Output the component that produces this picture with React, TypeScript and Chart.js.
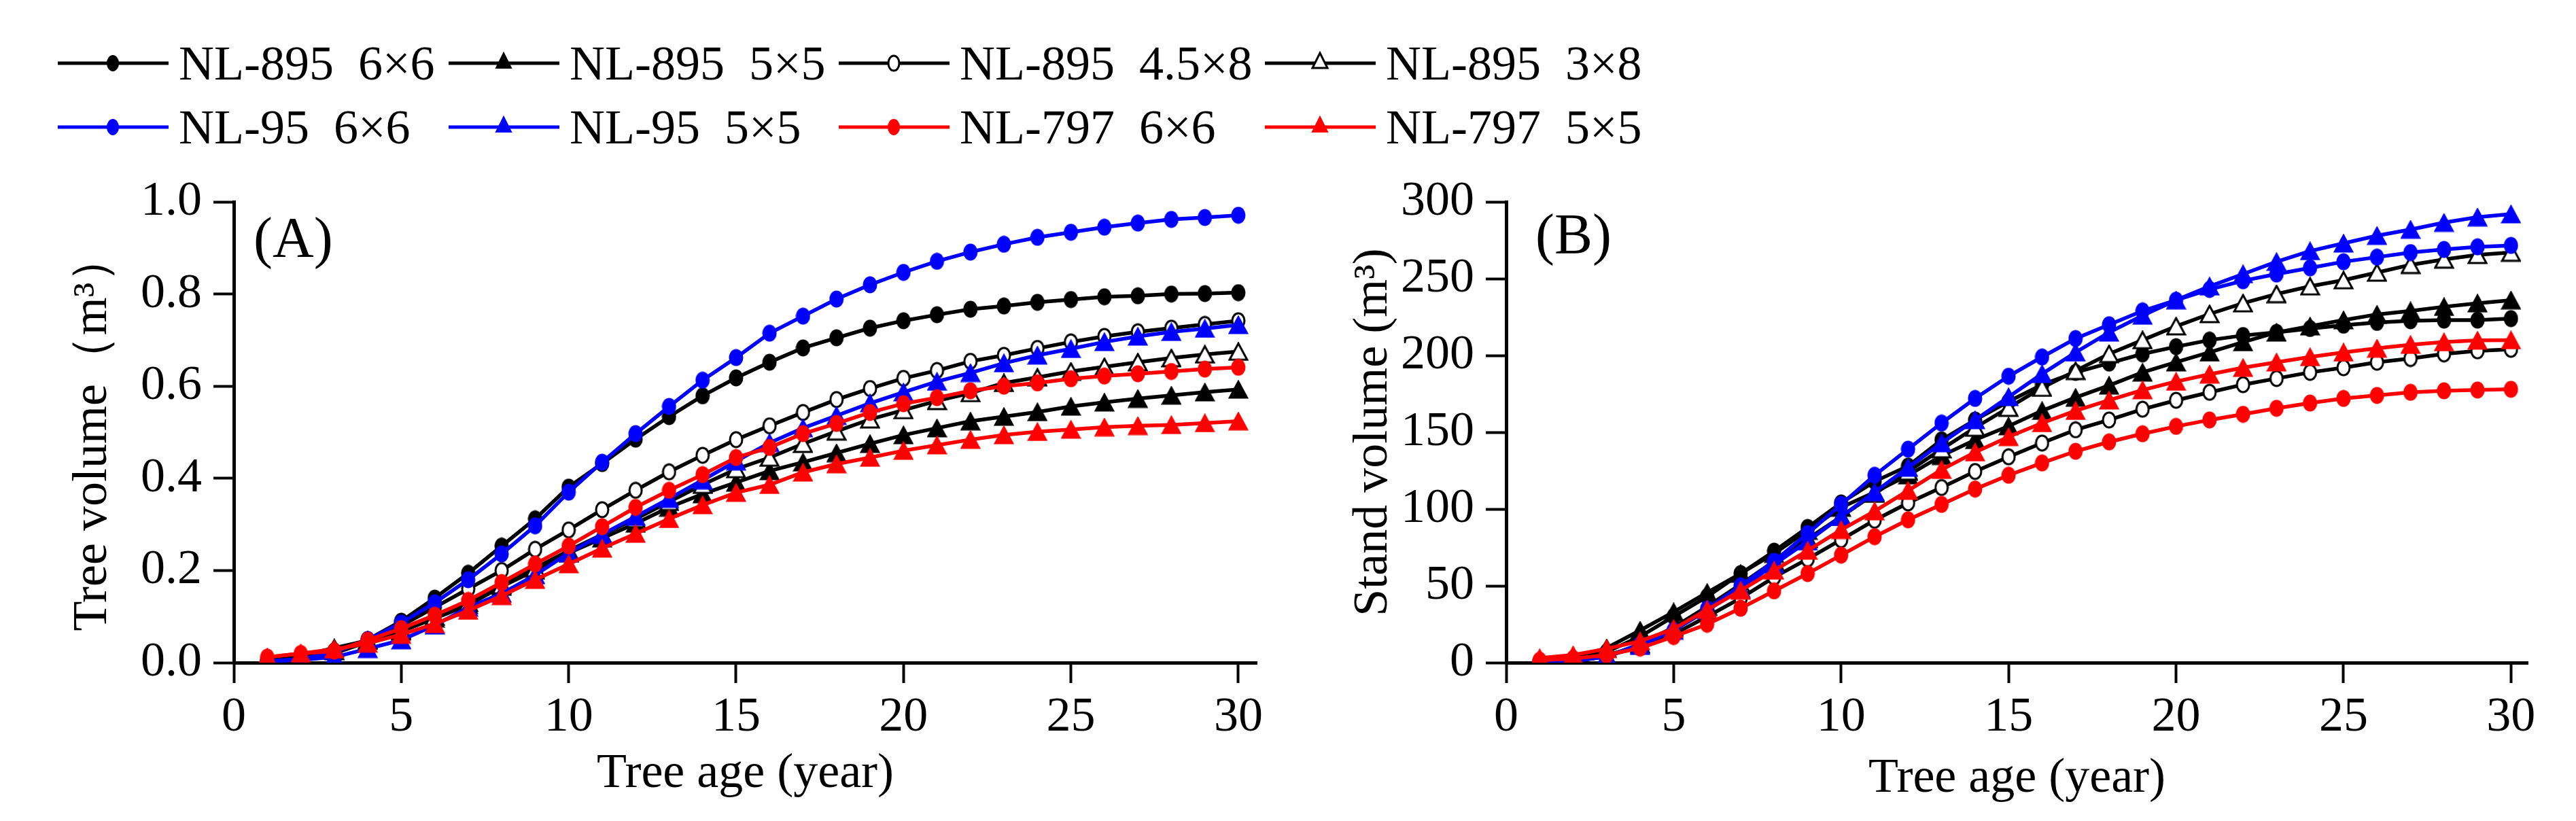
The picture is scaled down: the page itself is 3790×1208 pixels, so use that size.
import React, { useEffect, useRef } from 'react';
import { Chart, registerables } from 'chart.js';

Chart.register(...registerables);

const SERIF = '"Liberation Serif", "Times New Roman", serif';

// ---------- data ----------
const ages = [1, 2, 3, 4, 5, 6, 7, 8, 9, 10, 11, 12, 13, 14, 15, 16, 17, 18, 19, 20, 21, 22, 23, 24, 25, 26, 27, 28, 29, 30];
const ageTicks = [0, 5, 10, 15, 20, 25, 30];
const treeTicks = [0, 0.2, 0.4, 0.6, 0.8, 1.0];
const standTicks = [0, 50, 100, 150, 200, 250, 300];

const seriesLabels = ['NL-895  6×6', 'NL-895  5×5', 'NL-895  4.5×8', 'NL-895  3×8', 'NL-95  6×6', 'NL-95  5×5', 'NL-797  6×6', 'NL-797  5×5'];
const seriesColors = ['#000000', '#000000', '#000000', '#000000', '#0000ff', '#0000ff', '#ff0000', '#ff0000'];
const seriesMarkers = ['circle', 'triangle', 'circle', 'triangle', 'circle', 'triangle', 'circle', 'triangle'];
const seriesFilled = [true, true, false, false, true, true, true, true];

// (A) Tree volume (m3)
const treeNL895_6x6 = [0.005, 0.01, 0.025, 0.05, 0.09, 0.14, 0.194, 0.253, 0.312, 0.381, 0.432, 0.485, 0.534, 0.579, 0.618, 0.652, 0.683, 0.705, 0.726, 0.742, 0.755, 0.767, 0.774, 0.782, 0.788, 0.794, 0.796, 0.8, 0.801, 0.803];
const treeNL895_5x5 = [0.006, 0.015, 0.032, 0.048, 0.068, 0.096, 0.125, 0.165, 0.2, 0.238, 0.27, 0.302, 0.337, 0.366, 0.391, 0.416, 0.435, 0.455, 0.475, 0.494, 0.509, 0.524, 0.534, 0.544, 0.556, 0.565, 0.573, 0.58, 0.587, 0.593];
const treeNL895_45x8 = [0.003, 0.008, 0.02, 0.045, 0.08, 0.12, 0.16, 0.2, 0.246, 0.288, 0.332, 0.374, 0.414, 0.45, 0.484, 0.514, 0.543, 0.571, 0.595, 0.617, 0.634, 0.654, 0.667, 0.682, 0.696, 0.708, 0.718, 0.726, 0.734, 0.742];
const treeNL895_3x8 = [0.004, 0.01, 0.025, 0.048, 0.07, 0.1, 0.13, 0.168, 0.205, 0.243, 0.278, 0.312, 0.349, 0.386, 0.42, 0.445, 0.475, 0.502, 0.528, 0.548, 0.568, 0.585, 0.607, 0.619, 0.632, 0.642, 0.652, 0.661, 0.669, 0.675];
const treeNL95_6x6 = [0.003, 0.008, 0.022, 0.05, 0.086, 0.13, 0.18, 0.236, 0.297, 0.37, 0.435, 0.497, 0.556, 0.613, 0.662, 0.715, 0.752, 0.789, 0.82, 0.847, 0.871, 0.891, 0.908, 0.923, 0.934, 0.945, 0.954, 0.962, 0.966, 0.971];
const treeNL95_5x5 = [0.003, 0.006, 0.012, 0.03, 0.049, 0.081, 0.12, 0.15, 0.19, 0.238, 0.278, 0.317, 0.356, 0.396, 0.437, 0.477, 0.509, 0.536, 0.563, 0.587, 0.61, 0.629, 0.65, 0.667, 0.681, 0.696, 0.708, 0.718, 0.725, 0.733];
const treeNL797_6x6 = [0.012, 0.02, 0.025, 0.049, 0.074, 0.103, 0.135, 0.174, 0.214, 0.253, 0.295, 0.337, 0.374, 0.408, 0.445, 0.467, 0.497, 0.519, 0.543, 0.562, 0.575, 0.59, 0.6, 0.607, 0.616, 0.622, 0.627, 0.632, 0.637, 0.641];
const treeNL797_5x5 = [0.012, 0.02, 0.029, 0.042, 0.061, 0.084, 0.113, 0.145, 0.18, 0.214, 0.248, 0.28, 0.312, 0.342, 0.369, 0.386, 0.413, 0.431, 0.445, 0.46, 0.472, 0.484, 0.494, 0.501, 0.506, 0.511, 0.514, 0.516, 0.52, 0.524];

// (B) Stand volume (m3)
const standNL895_6x6 = [0.8, 2, 7, 17, 30, 43, 58, 72.6, 88, 104, 118, 128, 145, 158, 170, 181, 189, 195, 201, 205.7, 210, 213, 215, 217.5, 219.7, 221.5, 222.6, 223, 223, 224];
const standNL895_5x5 = [1, 3, 9.5, 21, 33, 45.6, 58, 71, 86, 101, 111, 122, 134.7, 145, 154, 164, 172.6, 180.5, 189, 195.6, 202, 208.7, 215, 219, 223, 226.7, 229, 231.7, 234, 236];
const standNL895_45x8 = [0.5, 1.6, 5, 10.6, 18.5, 30, 42, 55.6, 67.5, 80, 92.7, 104, 114, 124.5, 134, 143, 151.6, 158, 165, 170.8, 176, 181, 185, 189, 192, 195.6, 198, 201, 203, 204];
const standNL895_3x8 = [0.3, 1, 4, 12, 23, 36.5, 51, 66, 80.5, 95, 110, 124.5, 139, 153, 166, 179, 190, 201, 210, 219, 227, 234, 240, 245, 249, 254, 259, 262.5, 265.5, 267];
const standNL95_6x6 = [0.3, 1, 4, 12, 21, 35, 50, 66, 84, 103, 122, 139, 156, 172, 186.5, 199, 211, 220, 229, 236, 243, 248.6, 253, 257, 261, 264, 267, 269, 270.7, 271.6];
const standNL95_5x5 = [0.5, 1, 4, 11, 21, 34, 48, 64, 79, 95, 111, 127, 143, 158, 173, 188, 202, 215, 226, 236, 245, 253, 261, 268, 273, 278, 282, 286.5, 290, 292];
const standNL797_6x6 = [1.6, 2.7, 5, 9.5, 17, 25, 35.4, 46.7, 58, 70, 82, 93, 103, 113, 122, 130, 137.6, 143.7, 149, 153.8, 158, 161.7, 165.6, 169, 172, 174, 176, 177, 177.5, 178];
const standNL797_5x5 = [3, 5, 9, 14, 22, 34.5, 47, 60, 73, 86.5, 98.6, 112, 125.6, 137, 147, 156, 164, 170.8, 177.5, 183, 187.7, 192, 195.6, 199, 202, 204.6, 207, 208.7, 209.8, 210];

const treeVolume = [treeNL895_6x6, treeNL895_5x5, treeNL895_45x8, treeNL895_3x8, treeNL95_6x6, treeNL95_5x5, treeNL797_6x6, treeNL797_5x5];
const standVolume = [standNL895_6x6, standNL895_5x5, standNL895_45x8, standNL895_3x8, standNL95_6x6, standNL95_5x5, standNL797_6x6, standNL797_5x5];

// ---------- marker images ----------
function makeMarker(kind: string, color: string, filled: boolean): HTMLCanvasElement {
  const c = document.createElement('canvas');
  const ctx = c.getContext('2d') as CanvasRenderingContext2D;
  const lw = filled ? 2 : 3;
  if (kind === 'circle') {
    c.width = 22;
    c.height = 26;
    ctx.beginPath();
    ctx.ellipse(11, 13, 11 - lw / 2 - 0.5, 13 - lw / 2 - 0.5, 0, 0, Math.PI * 2);
  } else {
    c.width = 30;
    c.height = 28;
    const m = lw / 2 + 0.5;
    ctx.beginPath();
    ctx.moveTo(15, m);
    ctx.lineTo(30 - m, 28 - m);
    ctx.lineTo(m, 28 - m);
    ctx.closePath();
  }
  ctx.fillStyle = filled ? color : '#ffffff';
  ctx.fill();
  ctx.lineWidth = lw;
  ctx.strokeStyle = color;
  ctx.lineJoin = 'miter';
  ctx.stroke();
  return c;
}

// ---------- chart helpers ----------
function buildDatasets(values: number[][]) {
  return values.map((arr, i) => {
    const color = seriesColors[i];
    const filled = seriesFilled[i];
    return {
      label: seriesLabels[i],
      data: arr.map((v, k) => ({ x: ages[k], y: v })),
      borderColor: color,
      backgroundColor: filled ? color : '#ffffff',
      borderWidth: 5.5,
      pointStyle: makeMarker(seriesMarkers[i], color, filled),
      pointRadius: 12,
      pointBorderWidth: 0,
      tension: 0,
      order: values.length - i,
    };
  });
}

const font72 = { family: SERIF, size: 72 };

function makeConfig(opts: {
  values: number[][];
  yTicks: number[];
  yMax: number;
  xMax: number;
  yTitle: string;
  yTitlePad: number;
  xTitlePad: number;
  yAxisWidth: number;
  padRight: number;
  panel: string;
  panelDx: number;
  panelDy: number;
  decimals: number;
}) {
  const panelLabel = {
    id: 'panelLabel',
    afterDraw(chart: any) {
      const { ctx, chartArea } = chart;
      ctx.save();
      ctx.font = `84px ${SERIF}`;
      ctx.fillStyle = '#000';
      ctx.textBaseline = 'alphabetic';
      ctx.textAlign = 'left';
      ctx.fillText(opts.panel, chartArea.left + opts.panelDx, chartArea.top + opts.panelDy);
      ctx.restore();
    },
  };
  return {
    type: 'line',
    data: { datasets: buildDatasets(opts.values) },
    plugins: [panelLabel],
    options: {
      animation: false,
      responsive: false,
      devicePixelRatio: 1,
      layout: { padding: { top: 297, right: opts.padRight, bottom: 0, left: 0 } },
      plugins: { legend: { display: false }, tooltip: { enabled: false } },
      scales: {
        x: {
          type: 'linear',
          min: 0,
          max: opts.xMax,
          afterBuildTicks: (scale: any) => {
            scale.ticks = ageTicks.map((v) => ({ value: v }));
          },
          afterFit: (scale: any) => {
            scale.height = 233;
          },
          ticks: { font: font72, color: '#000', padding: 8, maxRotation: 0, autoSkip: false },
          grid: { drawOnChartArea: false, drawTicks: true, tickLength: 30, tickWidth: 4, tickColor: '#000' },
          border: { display: true, color: '#000', width: 5 },
          title: { display: true, text: 'Tree age (year)', font: font72, color: '#000', padding: { top: 0, bottom: opts.xTitlePad } },
        },
        y: {
          type: 'linear',
          min: 0,
          max: opts.yMax,
          afterBuildTicks: (scale: any) => {
            scale.ticks = opts.yTicks.map((v) => ({ value: v }));
          },
          afterFit: (scale: any) => {
            scale.width = opts.yAxisWidth;
          },
          ticks: {
            font: font72,
            color: '#000',
            padding: 17,
            autoSkip: false,
            callback: (v: any) => Number(v).toFixed(opts.decimals),
          },
          grid: { drawOnChartArea: false, drawTicks: true, tickLength: 30, tickWidth: 4, tickColor: '#000' },
          border: { display: true, color: '#000', width: 5 },
          title: { display: true, text: opts.yTitle, font: font72, color: '#000', padding: { top: opts.yTitlePad, bottom: 0 } },
        },
      },
    },
  };
}

function ChartCanvas({ makeCfg, left }: { makeCfg: () => any; left: number }) {
  const ref = useRef<HTMLCanvasElement | null>(null);
  useEffect(() => {
    if (!ref.current) return;
    const chart = new Chart(ref.current, makeCfg());
    return () => chart.destroy();
  }, [makeCfg]);
  return (
    <canvas
      ref={ref}
      width={1895}
      height={1208}
      style={{ position: 'absolute', left, top: 0, width: 1895, height: 1208 }}
    />
  );
}

function LegendMarker({ color, marker, filled }: { color: string; marker: string; filled: boolean }) {
  const cx = 81;
  const cy = 20;
  return (
    <svg width={163} height={40} style={{ display: 'block', flex: 'none' }}>
      <line x1={0} y1={cy} x2={163} y2={cy} stroke={color} strokeWidth={5} />
      {marker === 'circle' ? (
        <ellipse cx={cx} cy={cy} rx={8} ry={11} fill={filled ? color : '#fff'} stroke={color} strokeWidth={filled ? 2 : 3} />
      ) : (
        <polygon
          points={`${cx},${cy - 15} ${cx + 11},${cy + 7} ${cx - 11},${cy + 7}`}
          fill={filled ? color : '#fff'}
          stroke={color}
          strokeWidth={filled ? 2 : 3}
        />
      )}
    </svg>
  );
}

const legendCols = [85, 660, 1234, 1861];
const legendRows = [93, 187];

const makeConfigA = () =>
  makeConfig({
    values: treeVolume,
    yTicks: treeTicks,
    yMax: 1.0,
    xMax: 30.55,
    yTitle: 'Tree volume（m³）',
    yTitlePad: 94,
    xTitlePad: 26,
    yAxisWidth: 344,
    padRight: 46,
    panel: '(A)',
    panelDx: 29,
    panelDy: 81,
    decimals: 1,
  });

const makeConfigB = () =>
  makeConfig({
    values: standVolume,
    yTicks: standTicks,
    yMax: 300,
    xMax: 30.5,
    yTitle: 'Stand volume (m³)',
    yTitlePad: 83,
    xTitlePad: 19,
    yAxisWidth: 321,
    padRight: 71,
    panel: '(B)',
    panelDx: 43,
    panelDy: 76,
    decimals: 0,
  });

export default function App() {
  return (
    <div style={{ position: 'absolute', left: 0, top: 0, width: 3790, height: 1208, background: '#fff', overflow: 'hidden' }}>
      <ChartCanvas makeCfg={makeConfigA} left={0} />
      <ChartCanvas makeCfg={makeConfigB} left={1895} />
      {seriesLabels.map((label, i) => {
        const col = i % 4;
        const row = Math.floor(i / 4);
        return (
          <div
            key={label}
            style={{
              position: 'absolute',
              left: legendCols[col],
              top: legendRows[row] - 20,
              height: 40,
              display: 'flex',
              alignItems: 'center',
              whiteSpace: 'pre',
            }}
          >
            <LegendMarker color={seriesColors[i]} marker={seriesMarkers[i]} filled={seriesFilled[i]} />
            <span style={{ marginLeft: 15, fontFamily: SERIF, fontSize: 72, color: '#000', lineHeight: 'normal' }}>{label}</span>
          </div>
        );
      })}
    </div>
  );
}
